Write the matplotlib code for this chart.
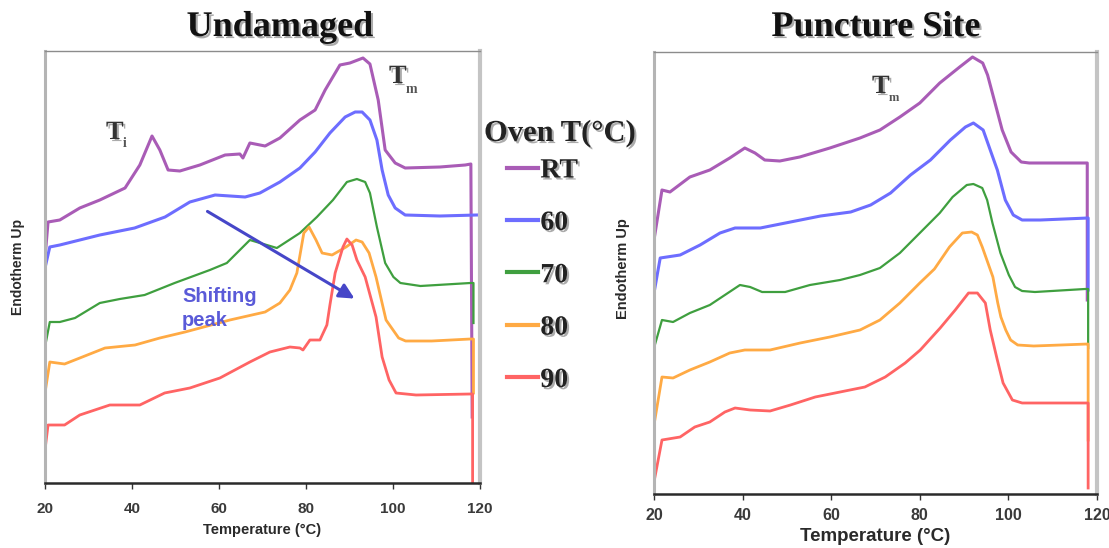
import matplotlib
matplotlib.use("Agg")
import matplotlib.pyplot as plt
import matplotlib.patheffects as pe
from matplotlib.font_manager import FontProperties

# DSC traces, heat flow in arbitrary units (no y scale), temperature in C
oven_labels = ["RT", "60", "70", "80", "90"]
colors = ["#a95cb6", "#6d6dff", "#3f9f3f", "#ffaa44", "#ff6464"]
widths = [2.2, 2.2, 1.6, 2.0, 2.0]

# undamaged samples
und_rt_t = [20.0, 20.7, 23.4, 28.0, 32.6, 38.4, 41.8, 44.6, 46.4, 48.3, 51.0, 55.6, 61.4, 64.8, 65.5, 67.1,
            70.6, 74.0, 78.6, 82.1, 84.4, 87.8, 90.1, 93.1, 94.7, 96.6, 98.2, 100.5, 102.8, 110.8, 116.6,
            117.9, 118.2]
und_rt_h = [225, 261, 263, 275, 283, 295, 318, 347, 333, 313, 312, 318, 328, 329, 325, 340,
            337, 345, 363, 373, 393, 418, 420, 425, 419, 383, 333, 320, 315, 316, 318,
            319, 66]
und_60_t = [20.0, 21.1, 23.4, 28.0, 32.6, 40.6, 47.6, 53.3, 59.1, 66.0, 69.4, 74.0, 78.6, 82.1, 85.5, 89.0,
            91.3, 92.9, 94.7, 96.3, 97.5, 98.9, 100.5, 102.8, 110.8, 119.3]
und_60_h = [215, 236, 238, 243, 248, 255, 266, 281, 288, 286, 290, 301, 315, 331, 350, 366,
            371, 371, 363, 343, 313, 288, 275, 268, 267, 268]
und_70_t = [20.0, 21.1, 23.4, 26.9, 32.6, 37.2, 42.9, 49.8, 57.9, 61.8, 67.1, 73.3, 78.6, 82.5, 86.2, 89.4,
            91.7, 93.6, 94.7, 96.3, 98.2, 100.1, 101.7, 106.3, 117.8, 118.5, 118.5]
und_70_h = [136, 161, 161, 165, 180, 184, 188, 200, 213, 220, 243, 235, 250, 266, 283, 301,
            304, 301, 290, 256, 220, 206, 200, 197, 200, 200, 160]
und_80_t = [20.0, 21.1, 24.5, 28.0, 33.8, 40.7, 46.4, 52.2, 62.5, 70.6, 74.0, 76.3, 77.9, 79.5, 80.7, 82.3,
            83.7, 86.0, 89.2, 91.5, 92.9, 94.5, 96.1, 98.4, 101.3, 102.9, 108.9, 117.8, 118.5, 118.5]
und_80_h = [90, 121, 119, 125, 135, 138, 145, 151, 163, 171, 180, 193, 210, 250, 256, 243,
            230, 228, 236, 243, 241, 230, 206, 163, 145, 142, 142, 144, 144, 90]
und_90_t = [20.0, 20.7, 24.5, 28.0, 34.9, 41.8, 47.5, 53.3, 60.2, 67.1, 71.7, 76.3, 78.6, 79.3, 80.9, 83.2,
            84.8, 85.5, 86.7, 88.5, 89.4, 90.6, 91.7, 93.6, 96.1, 97.5, 99.1, 100.7, 105.3, 117.8, 118.3,
            118.3]
und_90_h = [33, 58, 58, 68, 78, 78, 90, 95, 105, 121, 131, 136, 135, 133, 143, 143,
            158, 178, 210, 236, 244, 238, 223, 206, 166, 126, 103, 90, 88, 89, 89,
            0]

# samples taken at the puncture site
pun_rt_t = [20.0, 21.8, 23.6, 28.1, 32.6, 37.1, 40.5, 42.8, 45.0, 48.4, 52.9, 59.7, 66.5, 71.0, 75.5, 80.0,
            84.5, 89.0, 91.9, 94.2, 95.3, 96.8, 98.6, 100.6, 102.9, 104.7, 117.8, 117.8]
pun_rt_h = [254, 304, 302, 317, 324, 336, 346, 341, 334, 333, 337, 346, 356, 364, 377, 391,
            411, 427, 437, 431, 419, 394, 364, 342, 332, 331, 331, 194]
pun_60_t = [20.0, 21.4, 25.9, 30.4, 34.9, 38.3, 44.0, 50.8, 57.6, 64.4, 68.9, 73.4, 77.9, 82.4, 86.9, 90.3,
            92.1, 94.3, 95.9, 97.5, 99.3, 101.1, 103.1, 107.2, 118.0, 118.0]
pun_60_h = [201, 236, 239, 249, 261, 266, 266, 272, 278, 282, 289, 301, 319, 334, 354, 367,
            371, 364, 344, 324, 294, 279, 274, 274, 276, 204]
pun_70_t = [20.0, 21.8, 24.3, 28.1, 32.6, 36.0, 39.4, 41.7, 44.4, 49.6, 55.2, 62.0, 66.5, 71.0, 75.5, 80.0,
            84.5, 87.4, 90.6, 92.1, 94.1, 95.2, 96.4, 98.2, 100.1, 101.5, 103.1, 106.0, 117.3, 118.0, 118.0]
pun_70_h = [146, 174, 172, 181, 189, 199, 209, 207, 202, 202, 209, 214, 219, 226, 241, 261,
            281, 297, 309, 310, 306, 294, 271, 241, 219, 207, 203, 202, 205, 205, 146]
pun_80_t = [20.0, 21.8, 24.3, 28.1, 32.6, 37.1, 40.5, 46.2, 53.0, 59.7, 66.5, 71.0, 75.5, 80.0, 83.3, 86.7,
            89.6, 91.7, 93.0, 94.1, 95.7, 96.5, 97.6, 98.3, 99.4, 100.5, 102.1, 105.7, 117.9, 118.0, 118.0]
pun_80_h = [69, 117, 116, 124, 132, 141, 144, 144, 151, 157, 164, 174, 191, 211, 225, 247,
            261, 262, 259, 247, 227, 217, 191, 177, 164, 154, 149, 148, 150, 150, 54]
pun_90_t = [20.0, 21.8, 25.9, 29.2, 32.6, 36.0, 38.3, 41.7, 46.2, 50.8, 56.4, 62.0, 67.6, 72.2, 76.7, 80.1,
            84.6, 88.0, 91.0, 93.0, 94.8, 95.9, 97.5, 98.8, 100.9, 103.1, 117.3, 118.0, 118.0]
pun_90_h = [12, 54, 57, 67, 72, 82, 86, 84, 83, 89, 97, 102, 107, 117, 131, 144,
            166, 184, 201, 201, 191, 164, 134, 111, 94, 91, 91, 91, 6]

xticks = [20, 40, 60, 80, 100, 120]

W, H = 1109, 548


def px(x, y):
    # pixel position -> figure fraction
    return x / W, 1 - y / H


serif_b = dict(family="Liberation Serif", weight="bold")
sans_b = dict(family="Liberation Sans", weight="bold")
shadow = [pe.SimplePatchShadow(offset=(1.5, -1.5), shadow_rgbFace="#888888", alpha=0.7), pe.Normal()]


def style_axes(ax, top, tick_size, pad, xl_size, xl_y, yl_size, yl_x, yl_y):
    ax.set_xlim(20, 120)
    ax.set_ylim(0, top)
    ax.set_xticks(xticks)
    ax.set_yticks([])
    ax.tick_params(axis="x", direction="out", length=4, width=1, color="#333333",
                   labelsize=tick_size, labelcolor="#3a3a3a", pad=pad)
    for lab in ax.get_xticklabels():
        lab.set_fontfamily("Liberation Sans")
        lab.set_fontweight("bold")
    ax.spines["left"].set_color("#b4b4b4")
    ax.spines["left"].set_linewidth(2.2)
    ax.spines["top"].set_color("#8c8c8c")
    ax.spines["top"].set_linewidth(1.0)
    ax.spines["right"].set_color("#c4c4c4")
    ax.spines["right"].set_linewidth(3.0)
    ax.spines["bottom"].set_color("#2a2a2a")
    ax.spines["bottom"].set_linewidth(1.8)
    ax.set_xlabel("Temperature (°C)", fontsize=xl_size, color="#2a2a2a", **sans_b)
    ax.xaxis.set_label_coords(0.5, xl_y)
    ax.set_ylabel("Endotherm Up", fontsize=yl_size, color="#2a2a2a", **sans_b)
    ax.yaxis.set_label_coords(yl_x, yl_y)


fig = plt.figure(figsize=(W / 100, H / 100), dpi=100)
ax1 = fig.add_axes([45 / W, 1 - 483 / H, 435 / W, 432 / H])
ax2 = fig.add_axes([654 / W, 1 - 494 / H, 443 / W, 442 / H])

und_t = [und_rt_t, und_60_t, und_70_t, und_80_t, und_90_t]
und_h = [und_rt_h, und_60_h, und_70_h, und_80_h, und_90_h]
pun_t = [pun_rt_t, pun_60_t, pun_70_t, pun_80_t, pun_90_t]
pun_h = [pun_rt_h, pun_60_h, pun_70_h, pun_80_h, pun_90_h]

handles = []
for t, h, c, lw, lab in zip(und_t, und_h, colors, widths, oven_labels):
    ln, = ax1.plot(t, h, color=c, lw=lw, label=lab, solid_joinstyle="round")
    handles.append(ln)
for t, h, c, lw in zip(pun_t, pun_h, colors, widths):
    ax2.plot(t, h, color=c, lw=lw, solid_joinstyle="round")

style_axes(ax1, 432, 11, 10, 10.5, -0.093, 10, -0.046, 0.5)
style_axes(ax2, 442, 11.5, 6, 13.5, -0.078, 10.5, -0.054, 0.51)

# shifting annealing peak
ax1.annotate("", xy=(91.7, 183), xytext=(56.8, 273),
             arrowprops=dict(arrowstyle="-|>,head_length=0.9,head_width=0.45", color="#4646c8", lw=2.2))
ax1.text(51.5, 196, "Shifting\npeak", color="#5a5ad8", fontsize=14.5, va="top", ha="left",
         linespacing=1.3, **sans_b)

# transition labels
def t_label(x, y, sub, sx, sy, sub_size):
    fig.text(*px(x, y), "T", fontsize=19, color="#333333", ha="left", va="baseline",
             path_effects=shadow, **serif_b)
    fig.text(*px(sx, sy), sub, fontsize=sub_size, color="#555555", ha="left", va="baseline", **serif_b)


t_label(106, 139, "i", 123, 147, 10)
t_label(389, 83, "m", 406, 93, 10)
t_label(872, 93, "m", 889, 101, 9)

# titles
fig.text(*px(280, 36), "Undamaged", fontsize=26, ha="center", va="baseline", color="#111111",
         path_effects=shadow, **serif_b)
fig.text(*px(876, 36), "Puncture Site", fontsize=26, ha="center", va="baseline", color="#111111",
         path_effects=shadow, **serif_b)

# oven temperature legend
fig.text(*px(484, 141), "Oven T(°C)", fontsize=22, ha="left", va="baseline", color="#222222",
         path_effects=shadow, **serif_b)
leg = fig.legend(handles=handles, labels=oven_labels, loc="upper left", bbox_to_anchor=px(507, 158),
                 frameon=False, prop=FontProperties(size=20, **serif_b), handlelength=1.1,
                 handletextpad=0.1, labelspacing=0.97, borderpad=0, borderaxespad=0)
for txt in leg.get_texts():
    txt.set_color("#222222")
    txt.set_path_effects(shadow)
for ln in leg.get_lines():
    ln.set_linewidth(3)

fig.savefig("out.png", dpi=100)
